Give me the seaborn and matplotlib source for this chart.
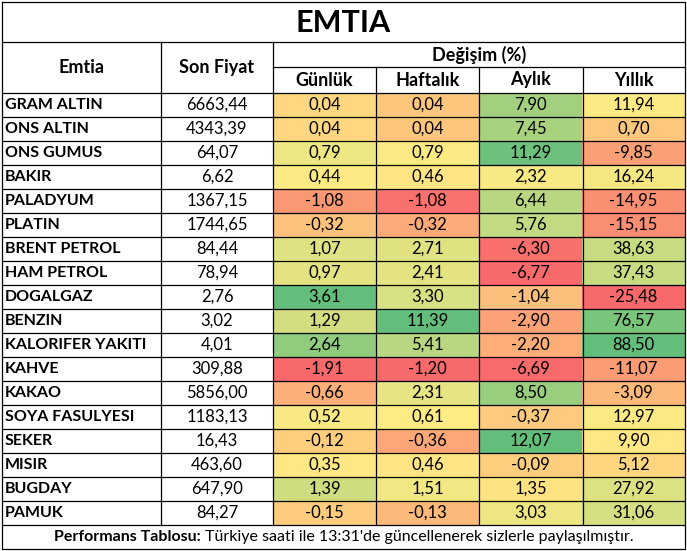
import numpy as np
import pandas as pd
import seaborn as sns
import matplotlib.pyplot as plt
from matplotlib.colors import LinearSegmentedColormap

plt.rcParams['font.family'] = ['Lato', 'DejaVu Sans']

names = ["GRAM ALTIN", "ONS ALTIN", "ONS GUMUS", "BAKIR", "PALADYUM", "PLATIN",
         "BRENT PETROL", "HAM PETROL", "DOGALGAZ", "BENZIN", "KALORIFER YAKITI",
         "KAHVE", "KAKAO", "SOYA FASULYESI", "SEKER", "MISIR", "BUGDAY", "PAMUK"]
prices = [6663.44, 4343.39, 64.07, 6.62, 1367.15, 1744.65, 84.44, 78.94, 2.76,
          3.02, 4.01, 309.88, 5856.00, 1183.13, 16.43, 463.60, 647.90, 84.27]
daily = [0.04, 0.04, 0.79, 0.44, -1.08, -0.32, 1.07, 0.97, 3.61, 1.29, 2.64,
         -1.91, -0.66, 0.52, -0.12, 0.35, 1.39, -0.15]
weekly = [0.04, 0.04, 0.79, 0.46, -1.08, -0.32, 2.71, 2.41, 3.30, 11.39, 5.41,
          -1.20, 2.31, 0.61, -0.36, 0.46, 1.51, -0.13]
monthly = [7.90, 7.45, 11.29, 2.32, 6.44, 5.76, -6.30, -6.77, -1.04, -2.90, -2.20,
           -6.69, 8.50, -0.37, 12.07, -0.09, 1.35, 3.03]
yearly = [11.94, 0.70, -9.85, 16.24, -14.95, -15.15, 38.63, 37.43, -25.48, 76.57,
          88.50, -11.07, -3.09, 12.97, 9.90, 5.12, 27.92, 31.06]
periods = ["Günlük", "Haftalık", "Aylık", "Yıllık"]

df = pd.DataFrame({"Günlük": daily, "Haftalık": weekly, "Aylık": monthly, "Yıllık": yearly},
                  index=names)


def fmt(v):
    return f"{v:.2f}".replace(".", ",")


# excel style 3 colour scale: min / median / max, per column
def scale(col):
    lo, mid, hi = col.min(), col.median(), col.max()
    out = np.where(col <= mid, 0.5 * (col - lo) / (mid - lo), 0.5 + 0.5 * (col - mid) / (hi - mid))
    return pd.Series(out, index=col.index)


norm = df.apply(scale)
labels = df.apply(lambda c: c.map(fmt)).values
cmap = LinearSegmentedColormap.from_list("rag", ["#F8696B", "#FFEB84", "#63BE7B"])

W, H = 687, 551
fig = plt.figure(figsize=(W / 100, H / 100), dpi=100)

# pixel layout
x_cols = [2, 161, 273, 376, 479, 583, 685]
y_top, y_title, y_mid, y_head = 2, 42, 67, 93
row_h = 24
y_rows = [y_head + i * row_h for i in range(len(names) + 1)]
y_bot = 549

hax = fig.add_axes([x_cols[2] / W, 1 - y_rows[-1] / H, (x_cols[-1] - x_cols[2]) / W,
                    (y_rows[-1] - y_head) / H])
sns.heatmap(norm, ax=hax, cmap=cmap, vmin=0, vmax=1, cbar=False, annot=labels, fmt="",
            annot_kws={"color": "black", "fontsize": 12}, xticklabels=False, yticklabels=False)
hax.set_xlabel("")
hax.set_ylabel("")

ax = fig.add_axes([0, 0, 1, 1])
ax.set_xlim(0, W)
ax.set_ylim(H, 0)
ax.axis("off")
ax.patch.set_alpha(0)

lw = 0.9
kw = dict(color="black", lw=lw)
# outer frame
ax.plot([x_cols[0], x_cols[-1], x_cols[-1], x_cols[0], x_cols[0]],
        [y_top, y_top, y_bot, y_bot, y_top], **kw)
ax.plot([x_cols[0], x_cols[-1]], [y_title, y_title], **kw)
ax.plot([x_cols[2], x_cols[-1]], [y_mid, y_mid], **kw)
for y in y_rows:
    ax.plot([x_cols[0], x_cols[-1]], [y, y], **kw)
for x in x_cols[1:3]:
    ax.plot([x, x], [y_title, y_rows[-1]], **kw)
for x in x_cols[3:6]:
    ax.plot([x, x], [y_mid, y_rows[-1]], **kw)

ax.text(W / 2, (y_top + y_title) / 2 + 1, "EMTIA", ha="center", va="center",
        fontsize=22, fontweight="bold")
ax.text((x_cols[0] + x_cols[1]) / 2, (y_title + y_head) / 2, "Emtia", ha="center",
        va="center", fontsize=13, fontweight="bold")
ax.text((x_cols[1] + x_cols[2]) / 2, (y_title + y_head) / 2, "Son Fiyat", ha="center",
        va="center", fontsize=13, fontweight="bold")
ax.text((x_cols[2] + x_cols[-1]) / 2, (y_title + y_mid) / 2, "Değişim (%)", ha="center",
        va="center", fontsize=13, fontweight="bold")
for i, p in enumerate(periods):
    ax.text((x_cols[2 + i] + x_cols[3 + i]) / 2, (y_mid + y_head) / 2, p, ha="center",
            va="center", fontsize=13, fontweight="bold")

for i, (n, pr) in enumerate(zip(names, prices)):
    yc = y_rows[i] + row_h / 2
    ax.text(5, yc, n, ha="left", va="center", fontsize=11.5, fontweight="bold")
    ax.text((x_cols[1] + x_cols[2]) / 2, yc, fmt(pr), ha="center", va="center", fontsize=12)

# footer: bold part + regular part, centred together
yf = (y_rows[-1] + y_bot) / 2
r = fig.canvas.get_renderer()
t1 = ax.text(0, yf, "Performans Tablosu: ", ha="left", va="center", fontsize=11.5,
             fontweight="bold")
t2 = ax.text(0, yf, "Türkiye saati ile 13:31'de güncellenerek sizlerle paylaşılmıştır.",
             ha="left", va="center", fontsize=11.5)
w1 = t1.get_window_extent(r).width
w2 = t2.get_window_extent(r).width
x0 = W / 2 - (w1 + w2) / 2
t1.set_x(x0)
t2.set_x(x0 + w1)

fig.savefig("out.png", dpi=100)
